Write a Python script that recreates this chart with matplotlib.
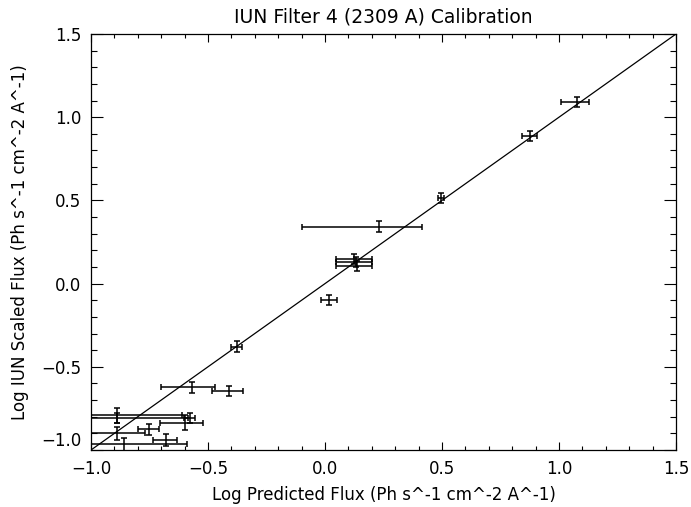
import matplotlib.pyplot as plt
import numpy as np

# log predicted flux (x) and log IUN scaled flux (y)
pred = np.array([1.075, 0.875, 0.496, 0.231, 0.124, 0.131, 0.135, 0.016,
                 -0.377, -0.570, -0.410, -0.889, -0.889, -0.578, -0.600,
                 -0.752, -0.889, -0.681, -0.859])
scaled = np.array([1.090, 0.885, 0.513, 0.342, 0.146, 0.128, 0.108, -0.097,
                   -0.379, -0.623, -0.645, -0.790, -0.810, -0.809, -0.836,
                   -0.876, -0.900, -0.940, -0.966])
# ends of the x error bars (asymmetric in log space)
pred_lo = np.array([1.007, 0.843, 0.482, -0.100, 0.046, 0.046, 0.046, -0.018,
                    -0.401, -0.701, -0.484, -1.100, -1.100, -0.603, -0.706,
                    -0.799, -1.100, -0.735, -1.100])
pred_hi = np.array([1.129, 0.907, 0.510, 0.416, 0.202, 0.202, 0.202, 0.050,
                    -0.353, -0.470, -0.349, -0.610, -0.585, -0.557, -0.521,
                    -0.709, -0.771, -0.631, -0.588])
scaled_err = np.array([0.030, 0.030, 0.030, 0.033, 0.030, 0.030, 0.030, 0.030,
                       0.035, 0.033, 0.030, 0.045, 0.030, 0.030, 0.045,
                       0.033, 0.040, 0.034, 0.040])

plt.rcParams['font.family'] = ['DejaVu Sans']

fig = plt.figure(figsize=(6.91, 5.07), dpi=100)
ax = fig.add_axes([91/691, 1 - 450/507, 585/691, 416/507])

xerr = np.vstack([pred - pred_lo, pred_hi - pred])
ax.errorbar(pred, scaled, xerr=xerr, yerr=scaled_err, fmt='none',
            ecolor='black', elinewidth=1.1, capsize=2.5, capthick=1.1)

ax.plot([-1.0, 1.5], [-1.0, 1.5], color='black', lw=0.9)

ax.set_xlim(-1.0, 1.5)
ax.set_ylim(-1.0, 1.5)
ticks = np.arange(-1.0, 1.51, 0.5)
ax.set_xticks(ticks)
ax.set_yticks(ticks)
ax.set_xticks(np.arange(-1.0, 1.51, 0.1), minor=True)
ax.set_yticks(np.arange(-1.0, 1.51, 0.1), minor=True)
ax.tick_params(which='both', direction='in', top=True, right=True,
               labelsize=12, width=0.8)
ax.tick_params(axis='x', which='major', length=6, pad=7)
ax.tick_params(axis='x', which='minor', length=3)
ax.tick_params(axis='y', which='major', length=8.4, pad=7)
ax.tick_params(axis='y', which='minor', length=4.2)
labels = [f"{v:.1f}".replace('-', '\u2212') for v in ticks]
ax.set_xticklabels(labels)
ax.set_yticklabels(labels)
ax.get_yticklabels()[0].set_va('bottom')
for s in ax.spines.values():
    s.set_linewidth(0.9)

ax.set_title("IUN Filter 4 (2309 A) Calibration", fontsize=13.5, pad=8)
ax.set_xlabel("Log Predicted Flux (Ph s^-1 cm^-2 A^-1)", fontsize=12, labelpad=6)
ax.set_ylabel("Log IUN Scaled Flux (Ph s^-1 cm^-2 A^-1)", fontsize=12, labelpad=9)

fig.savefig("out.png", dpi=100)
